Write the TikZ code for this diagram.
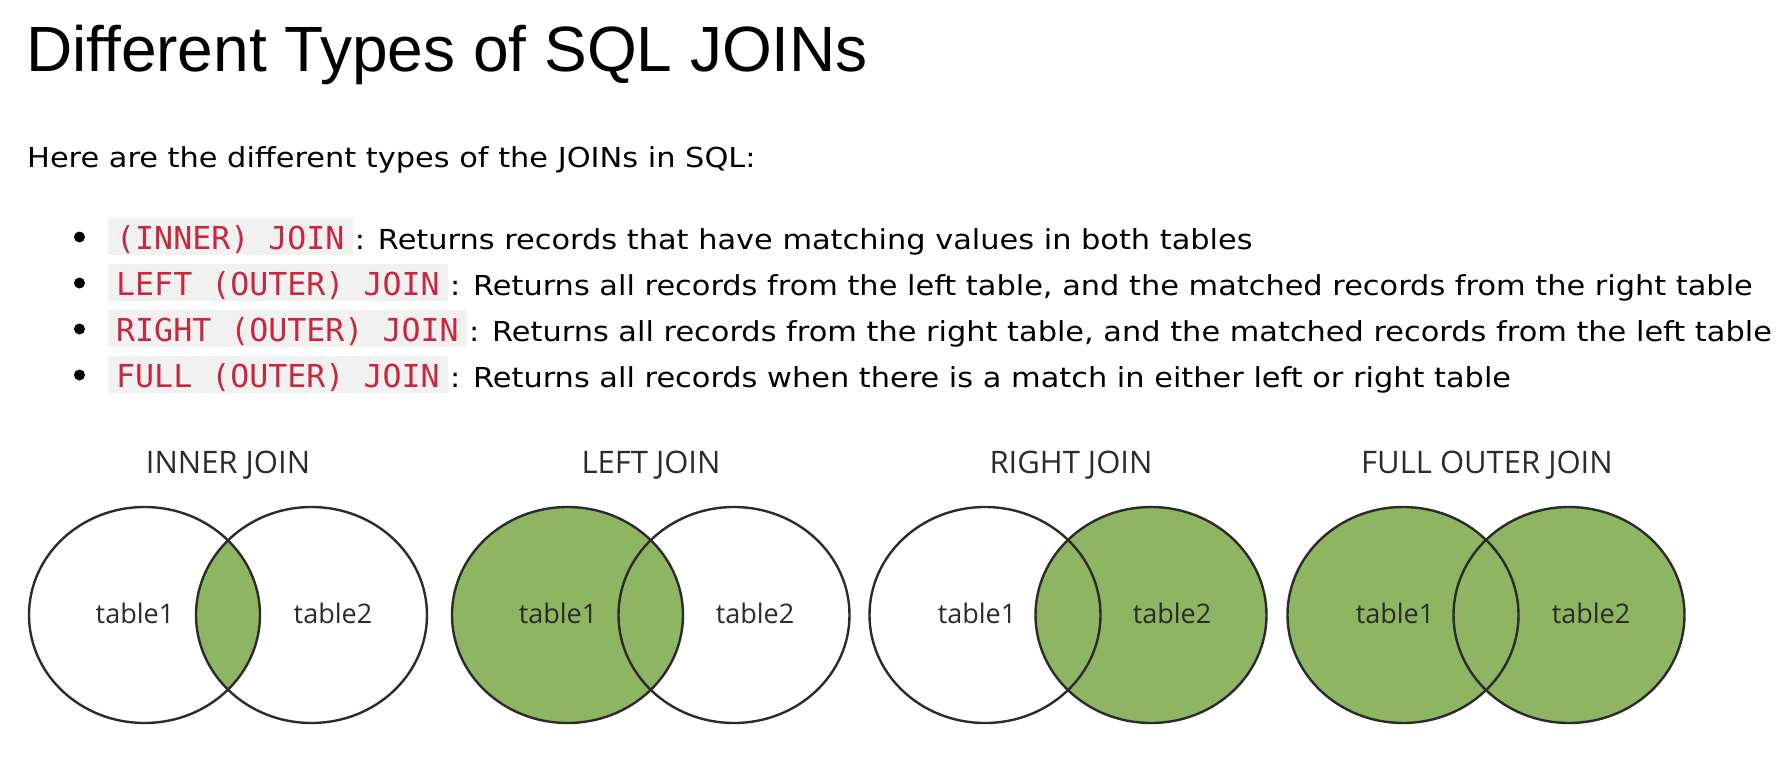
\documentclass[tikz,border=0pt]{standalone}
\usepackage{fontspec}
\setmainfont[FakeStretch=1.105]{DejaVu Sans}
\newfontfamily\headfont{Liberation Sans}
\newfontfamily\kwfont{DejaVu Sans Mono}
\newfontfamily\vennfont{Open Sans}
\definecolor{joingreen}{HTML}{8DB562}
\definecolor{kwred}{HTML}{C7283F}
\definecolor{kwback}{HTML}{F1F1F1}
\definecolor{vennline}{HTML}{2B2B2B}

\begin{document}
\begin{tikzpicture}[x=1pt,y=-1pt,
  venn/.style={draw=vennline, line width=2.4pt},
  tbl/.style={font=\vennfont\fontsize{27}{31}\selectfont, text=vennline, inner sep=0pt, anchor=base},
  jointitle/.style={font=\vennfont\fontsize{31}{35}\selectfont, text=vennline, inner sep=0pt, anchor=base},
  kw/.style={fill=kwback, text=kwred, font=\kwfont\fontsize{31.6}{36}\selectfont,
    inner xsep=8pt, inner ysep=0pt, text height=31pt, text depth=6pt, anchor=base west},
  desc/.style={font=\fontsize{27.5}{33}\selectfont, inner sep=0pt, anchor=base west},
  dot/.style={circle, fill=black, inner sep=0pt, minimum size=11pt}]
  \useasboundingbox (0,0) rectangle (1788,760);

  % heading and intro
  \node[anchor=base west, inner sep=0pt, font=\headfont\fontsize{64}{70}\selectfont] (title) at (26,72) {Different Types of SQL JOINs};
  \node[desc] (intro) at (27,167) {Here are the different types of the JOINs in SQL:};

  % list of joins
  \node[dot] (b1) at (79.5,237) {};
  \node[kw] (k1) at (108,249) {(INNER) JOIN};
  \node[desc] (d1) at ([xshift=2pt]k1.base east) {: Returns records that have matching values in both tables};
  \node[dot] (b2) at (79.5,283) {};
  \node[kw] (k2) at (108,295) {LEFT (OUTER) JOIN};
  \node[desc] (d2) at ([xshift=2pt]k2.base east) {: Returns all records from the left table, and the matched records from the right table};
  \node[dot] (b3) at (79.5,329) {};
  \node[kw] (k3) at (108,341) {RIGHT (OUTER) JOIN};
  \node[desc] (d3) at ([xshift=2pt]k3.base east) {: Returns all records from the right table, and the matched records from the left table};
  \node[dot] (b4) at (79.5,375) {};
  \node[kw] (k4) at (108,387) {FULL (OUTER) JOIN};
  \node[desc] (d4) at ([xshift=2pt]k4.base east) {: Returns all records when there is a match in either left or right table};

  % inner join
  \begin{scope}
    \clip (144.5,615) ellipse [x radius=115.5pt, y radius=108pt];
    \fill[joingreen] (311.5,615) ellipse [x radius=115.5pt, y radius=108pt];
  \end{scope}
  \draw[venn] (144.5,615) ellipse [x radius=115.5pt, y radius=108pt];
  \draw[venn] (311.5,615) ellipse [x radius=115.5pt, y radius=108pt];
  \node[jointitle] (inner) at (228,473) {INNER JOIN};
  \node[tbl] (inner1) at (135,623) {table1};
  \node[tbl] (inner2) at (333,623) {table2};

  % left join
  \fill[joingreen] (567.5,615) ellipse [x radius=115.5pt, y radius=108pt];
  \draw[venn] (567.5,615) ellipse [x radius=115.5pt, y radius=108pt];
  \draw[venn] (734,615) ellipse [x radius=115.5pt, y radius=108pt];
  \node[jointitle] (left) at (651,473) {LEFT JOIN};
  \node[tbl] (left1) at (558,623) {table1};
  \node[tbl] (left2) at (755,623) {table2};

  % right join
  \fill[joingreen] (1151,615) ellipse [x radius=115.5pt, y radius=108pt];
  \draw[venn] (985,615) ellipse [x radius=115.5pt, y radius=108pt];
  \draw[venn] (1151,615) ellipse [x radius=115.5pt, y radius=108pt];
  \node[jointitle] (right) at (1071,473) {RIGHT JOIN};
  \node[tbl] (right1) at (977,623) {table1};
  \node[tbl] (right2) at (1172,623) {table2};

  % full outer join
  \fill[joingreen] (1403,615) ellipse [x radius=115.5pt, y radius=108pt];
  \fill[joingreen] (1569,615) ellipse [x radius=115.5pt, y radius=108pt];
  \draw[venn] (1403,615) ellipse [x radius=115.5pt, y radius=108pt];
  \draw[venn] (1569,615) ellipse [x radius=115.5pt, y radius=108pt];
  \node[jointitle] (full) at (1487,473) {FULL OUTER JOIN};
  \node[tbl] (full1) at (1395,623) {table1};
  \node[tbl] (full2) at (1591,623) {table2};
\end{tikzpicture}
\end{document}
